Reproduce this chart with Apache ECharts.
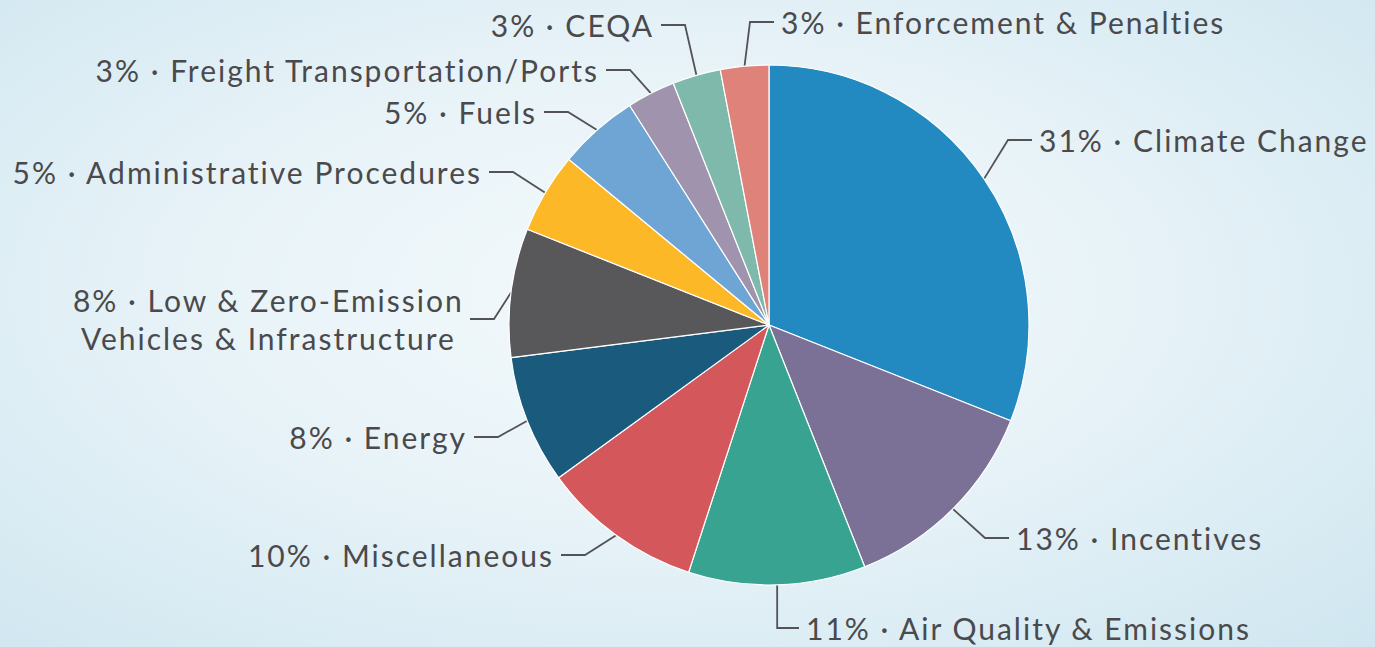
<!DOCTYPE html>
<html>
<head>
<meta charset="utf-8">
<script src="https://cdn.jsdelivr.net/npm/echarts@6/dist/echarts.min.js"></script>
<style>
  html, body { margin: 0; padding: 0; }
  body {
    width: 1375px; height: 647px; overflow: hidden;
    background: radial-gradient(ellipse at 48% 45%, #f3f9fb 0%, #e8f3f8 45%, #cfe6f0 100%);
  }
  #chart { width: 1375px; height: 647px; }
  /* Avenir-like tracking for the labels */
  #chart svg text { letter-spacing: 2px; }
</style>
</head>
<body>
<div id="chart"></div>
<script>
// categories and shares, clockwise from 12 o'clock
const categories = [
  'Climate Change',
  'Incentives',
  'Air Quality & Emissions',
  'Miscellaneous',
  'Energy',
  'Low & Zero-Emission\nVehicles & Infrastructure',
  'Administrative Procedures',
  'Fuels',
  'Freight Transportation/Ports',
  'CEQA',
  'Enforcement & Penalties'
];
const shares = [31, 13, 11, 10, 8, 8, 5, 5, 3, 3, 3];
const colors = [
  '#2389c1', '#7b7095', '#38a391', '#d4575b', '#1a5a7d', '#58585b',
  '#fdb827', '#6fa5d5', '#9f93ae', '#7fb9ab', '#df8279'
];

// where each label sits (near edge of the label box, vertical middle)
const labelX = [1032, 1009, 799, 561, 474, 470, 489, 544, 606, 661, 774];
const labelY = [140, 538, 628, 555, 437, 319, 172, 112, 70, 25, 22];
const labelAlign = ['left', 'left', 'left', 'right', 'right', 'right',
  'right', 'right', 'right', 'right', 'left'];

const FONT = 'Lato, "Noto Sans", sans-serif';
const TEXT_COLOR = '#4a4a4d';

const chart = echarts.init(document.getElementById('chart'), null, { renderer: 'svg' });

const data = categories.map((name, i) => {
  const item = { name: name, value: shares[i], itemStyle: { color: colors[i] } };
  if (name.indexOf('\n') >= 0) {
    // two line label, lines centred on each other
    item.label = { padding: [0, 30, 0, 6] };
  }
  return item;
});

chart.setOption({
  backgroundColor: 'transparent',
  series: [{
    type: 'pie',
    center: [769, 325],
    radius: 260,
    startAngle: 90,
    clockwise: true,
    avoidLabelOverlap: false,
    itemStyle: { borderColor: '#ffffff', borderWidth: 1.2 },
    label: {
      show: true,
      position: 'outer',
      formatter: (p) => {
        const parts = p.name.split('\n');
        if (parts.length > 1) {
          return '{c|' + p.value + '% · ' + parts[0] + '}\n{c|' + parts[1] + '}';
        }
        return p.value + '% · ' + p.name;
      },
      fontFamily: FONT,
      fontSize: 30,
      color: TEXT_COLOR,
      // transparent box so the padding keeps the guide line off the text
      backgroundColor: 'rgba(255,255,255,0)',
      padding: [0, 7],
      rich: {
        c: { align: 'center', fontFamily: FONT, fontSize: 30, lineHeight: 38, color: TEXT_COLOR }
      }
    },
    labelLine: {
      show: true,
      length: 25,
      length2: 24,
      lineStyle: { color: '#535356', width: 1.8 }
    },
    labelLayout: (params) => {
      const i = params.dataIndex;
      return {
        x: labelX[i],
        y: labelY[i],
        align: labelAlign[i],
        verticalAlign: 'middle'
      };
    },
    emphasis: { disabled: true },
    data: data
  }]
});
</script>
</body>
</html>
